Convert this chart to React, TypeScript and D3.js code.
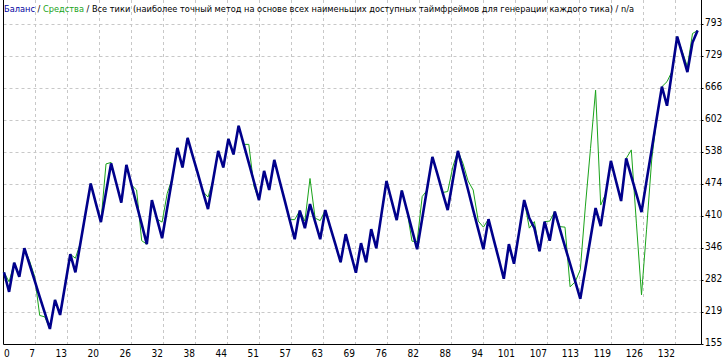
import React, { useEffect, useLayoutEffect, useRef, useState } from "react";
import * as d3 from "d3";

const balance = [
  298, 259, 317, 289, 346, 314, 282, 249, 217, 185,
  243, 213, 273, 334, 298, 357, 416, 475, 436, 398,
  457, 515, 476, 437, 512, 472, 433, 394, 354, 442,
  404, 366, 426, 486, 546, 507, 566, 530, 495, 459,
  424, 482, 540, 507, 564, 533, 590, 553, 516, 479,
  442, 500, 462, 522, 482, 443, 403, 364, 421, 386,
  434, 399, 364, 422, 387, 353, 318, 374, 335, 297,
  356, 318, 384, 346, 413, 480, 441, 402, 461, 422,
  383, 344, 405, 467, 528, 493, 457, 422, 481, 540,
  501, 462, 422, 383, 344, 404, 364, 325, 285, 354,
  315, 378, 442, 406, 386, 340, 399, 361, 419, 384,
  349, 315, 280, 245, 305, 366, 426, 390, 455, 520,
  480, 440, 525, 489, 454, 418, 481, 543, 606, 668,
  630, 699, 768, 733, 697, 756, 780,
];

const equity = [
  298, 279, 317, 289, 346, 321, 290, 212, 209, 185,
  243, 213, 273, 334, 326, 357, 416, 475, 436, 398,
  514, 517, 476, 437, 512, 472, 462, 361, 354, 442,
  404, 398, 455, 486, 546, 507, 566, 530, 495, 459,
  448, 482, 540, 507, 564, 533, 590, 553, 553, 470,
  442, 500, 462, 522, 482, 443, 403, 403, 421, 400,
  485, 406, 401, 422, 387, 353, 318, 374, 335, 297,
  356, 318, 384, 346, 413, 480, 441, 402, 461, 422,
  360, 359, 449, 462, 528, 493, 457, 459, 508, 540,
  515, 480, 462, 400, 388, 404, 364, 325, 285, 354,
  315, 378, 442, 386, 399, 340, 399, 400, 419, 389,
  388, 269, 279, 303, 430, 545, 661, 432, 455, 520,
  480, 440, 525, 542, 396, 253, 384, 522, 606, 668,
  678, 699, 768, 738, 708, 774, 780,
];

const yTicks = [155, 219, 282, 346, 410, 474, 538, 602, 666, 729, 793];
const xTickLabels = [
  "0", "7", "13", "20", "26", "32", "38", "44", "51", "57", "63",
  "69", "76", "82", "88", "94", "101", "107", "113", "119", "126", "132",
];

const titleBalance = "Баланс";
const titleEquity = "Средства";
const titleRest =
  " / Все тики (наиболее точный метод на основе всех наименьших доступных таймфреймов для генерации каждого тика) / n/a";

const W = 726;
const H = 361;
const FONT = "'DejaVu Sans Condensed', 'Liberation Sans', sans-serif";
const TITLE_WIDTH = 629;

export default function App() {
  const titleRef = useRef<SVGTextElement>(null);
  const [titleSize, setTitleSize] = useState(10);

  useEffect(() => {
    document.body.style.margin = "0";
  }, []);

  useLayoutEffect(() => {
    const el = titleRef.current;
    if (!el) return;
    const w = el.getComputedTextLength();
    if (w > 0 && Math.abs(w - TITLE_WIDTH) > 1) {
      setTitleSize((s) => Math.round(((s * TITLE_WIDTH) / w) * 100) / 100);
    }
  }, [titleSize]);

  const x = d3.scaleLinear().domain([0, balance.length - 1]).range([4, 697.6]);
  const y = d3.scaleLinear().domain([155, 793]).range([344, 24]);
  const gx = d3.scaleLinear().domain([0, xTickLabels.length - 1]).range([3, 675]);

  const line = d3
    .line<number>()
    .x((_, i) => x(i))
    .y((d) => y(d));

  const left = 3.5;
  const right = 701.5;
  const bottom = 344.5;

  return (
    <svg width={W} height={H} style={{ display: "block", background: "#fff" }}>
      <rect x={0} y={0} width={W} height={H} fill="#fff" />
      {/* grid */}
      {yTicks.slice(1).map((t) => (
        <line
          key={"h" + t}
          x1={left}
          x2={right}
          y1={Math.round(y(t)) + 0.5}
          y2={Math.round(y(t)) + 0.5}
          stroke="#c8c8c8"
          strokeDasharray="3,3"
        />
      ))}
      {xTickLabels.slice(1).map((t, k) => (
        <line
          key={"v" + t}
          x1={Math.round(gx(k + 1)) + 0.5}
          x2={Math.round(gx(k + 1)) + 0.5}
          y1={0}
          y2={bottom}
          stroke="#c8c8c8"
          strokeDasharray="3,3"
        />
      ))}
      {/* frame */}
      <line x1={left} x2={left} y1={0} y2={bottom} stroke="#000" />
      <line x1={right} x2={right} y1={0} y2={bottom} stroke="#000" />
      <line x1={left} x2={right} y1={bottom} y2={bottom} stroke="#000" />
      {/* series */}
      <path d={line(equity) || ""} fill="none" stroke="#1aa31a" strokeWidth={1} />
      <path
        d={line(balance) || ""}
        fill="none"
        stroke="#00008b"
        strokeWidth={2.6}
        strokeLinejoin="miter"
        strokeMiterlimit={3}
      />
      {/* y labels */}
      {yTicks.map((t) => (
        <g key={"yl" + t}>
          <line
            x1={right}
            x2={right + 2}
            y1={Math.round(y(t)) + 0.5}
            y2={Math.round(y(t)) + 0.5}
            stroke="#000"
          />
          <text
            x={705}
            y={Math.round(y(t)) + 2}
            fontFamily={FONT}
            fontSize={10}
            fill="#000"
          >
            {t}
          </text>
        </g>
      ))}
      {/* x labels */}
      {xTickLabels.map((t, k) => (
        <text
          key={"xl" + t}
          x={k === 0 ? 4 : Math.round(gx(k))}
          y={357}
          textAnchor={k === 0 ? "start" : "end"}
          fontFamily={FONT}
          fontSize={10}
          fill="#000"
        >
          {t}
        </text>
      ))}
      {/* title */}
      <text ref={titleRef} x={4} y={12} fontFamily={FONT} fontSize={titleSize} fill="#000">
        <tspan fill="#0000a0">{titleBalance}</tspan>
        <tspan fill="#000"> / </tspan>
        <tspan fill="#1aa31a">{titleEquity}</tspan>
        <tspan fill="#000">{titleRest}</tspan>
      </text>
    </svg>
  );
}
